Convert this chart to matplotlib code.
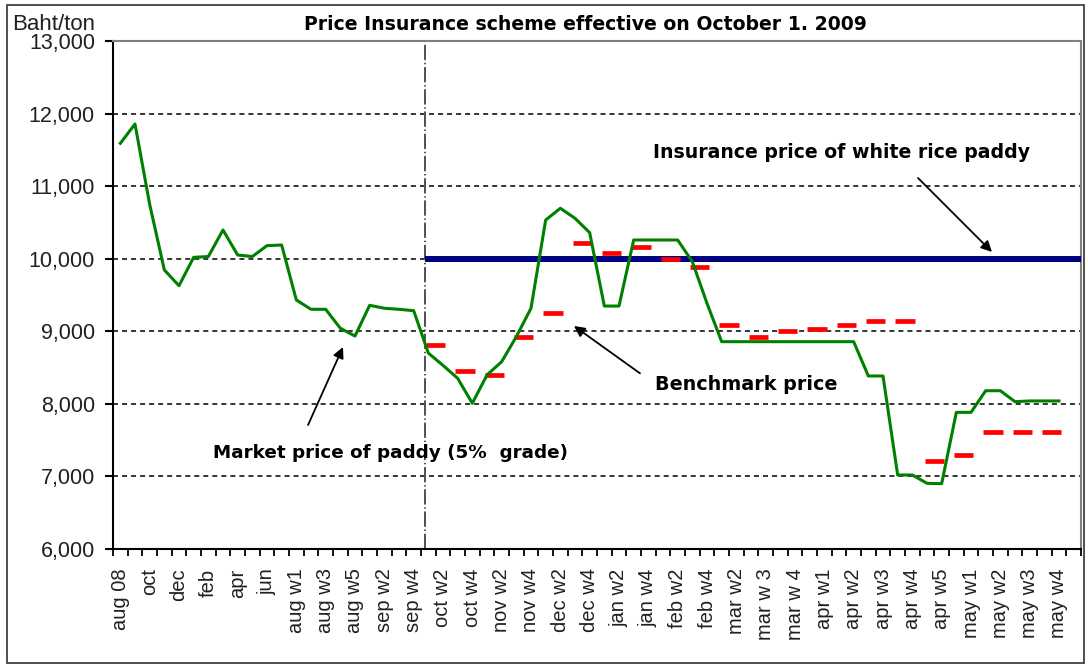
import numpy as np
import matplotlib
matplotlib.use("Agg")
import matplotlib.pyplot as plt
from matplotlib.patches import Rectangle

plt.rcParams['font.family'] = ['Liberation Sans', 'DejaVu Sans']
plt.rcParams['lines.scale_dashes'] = False

# ---------------- data ----------------
tick_labels = ["aug 08", "oct", "dec", "feb", "apr", "jun", "aug w1", "aug w3", "aug w5",
               "sep w2", "sep w4", "oct w2", "oct w4", "nov w2", "nov w4", "dec w2", "dec w4",
               "jan w2", "jan w4", "feb w2", "feb w4", "mar w2", "mar w 3", "mar w 4",
               "apr w1", "apr w2", "apr w3", "apr w4", "apr w5", "may w1", "may w2",
               "may w3", "may w4"]

market_price = [11590, 11856, 10750, 9845, 9628, 10019, 10030, 10396, 10051, 10030,
                10180, 10189, 9431, 9303, 9303, 9041, 8935, 9358, 9317, 9303,
                9284, 8700, 8530, 8352, 8008, 8398, 8581, 8926, 9317, 10533,
                10695, 10557, 10359, 9348, 9348, 10258, 10258, 10258, 10258, 9959,
                9385, 8857, 8857, 8857, 8857, 8857, 8857, 8857, 8857, 8857,
                8857, 8384, 8384, 7020, 7020, 6905, 6900, 7883, 7883, 8181,
                8181, 8030, 8040, 8040, 8040, np.nan]

benchmark_price = [8811, 8453, 8393, 8917, 9248, 10212, 10083, 10166, 9992, 9890,
                   9086, 8917, 9004, 9036, 9086, 9137, 9137, 7217, 7291, 7608,
                   7608, 7608]
benchmark_first_week = 21   # category index where benchmark series starts (2-week periods)

insurance_price = 10000
scheme_start = 20.77        # Oct 1, 2009 position on category axis

title = "Price Insurance scheme effective on October 1. 2009"

# ---------------- figure ----------------
W, H = 1088, 666
fig = plt.figure(figsize=(W / 100, H / 100), dpi=100)
ax = fig.add_axes([113 / W, 1 - 549 / H, (1081 - 113) / W, (549 - 41) / H])

n = len(market_price)
x = np.arange(n)

# grid
for v in range(7000, 13000, 1000):
    ax.axhline(v, color='black', lw=1.1, dashes=[3.6, 2.9], zorder=1)

# scheme start vertical line
ax.axvline(scheme_start, color='#505050', lw=1.4, dashes=[11, 2, 1, 2], zorder=2)

# insurance price
ax.hlines(insurance_price, scheme_start, n - 0.5, color='#000080', lw=4.3, zorder=3)

# benchmark
bx = benchmark_first_week + 0.5 + 2 * np.arange(len(benchmark_price))
ax.hlines(benchmark_price, bx - 0.65, bx + 0.65, color='#ff0000', lw=3.4, zorder=4)

# market price
ax.plot(x, market_price, color='#008000', lw=2.2, zorder=5)

ax.set_xlim(-0.5, n - 0.5)
ax.set_ylim(6000, 13000)

# spines
for s in ['left', 'bottom']:
    ax.spines[s].set_color('black')
    ax.spines[s].set_linewidth(1.5)
for s in ['top', 'right']:
    ax.spines[s].set_color('#808080')
    ax.spines[s].set_linewidth(1.5)

# y ticks
yt = np.arange(6000, 13001, 1000)
ax.set_yticks(yt)
ax.set_yticklabels([f"{v:,.0f}" for v in yt], fontsize=15.5, color='#202020')
ax.tick_params(axis='y', which='major', length=6, width=1.5, direction='out', pad=7)

# x ticks
ax.set_xticks(np.arange(0, n, 2))
ax.set_xticklabels(tick_labels, rotation=90, fontsize=14.5, color='#202020')
ax.set_xticks(np.arange(-0.5, n, 1), minor=True)
ax.tick_params(axis='x', which='major', length=0, pad=14)
ax.tick_params(axis='x', which='minor', length=5, width=1.3, direction='out')

# texts
bold_font = ['DejaVu Sans']
fig.text(585 / W, 1 - 24 / H, title, ha='center', va='center', fontsize=13.6,
         fontweight='bold', family=bold_font)
fig.text(12 / W, 1 - 24 / H, "Baht/ton", ha='left', va='center', fontsize=16,
         color='#202020')

ax.text(36.32, 11457, "Insurance price of white rice paddy", fontsize=13.6,
        fontweight='bold', ha='left', va='center', family=bold_font)
ax.text(36.45, 8260, "Benchmark price", fontsize=13.8, fontweight='bold',
        ha='left', va='center', family=bold_font)
ax.text(6.32, 7323, "Market price of paddy (5%  grade)", fontsize=13.2,
        fontweight='bold', ha='left', va='center', family=bold_font)

arrow = dict(arrowstyle='-|>', color='black', lw=1.3, mutation_scale=16,
             shrinkA=0, shrinkB=0)
ax.annotate('', xy=(59.43, 10093), xytext=(54.39, 11112), arrowprops=arrow, zorder=6)
ax.annotate('', xy=(30.93, 9073), xytext=(35.43, 8421), arrowprops=arrow, zorder=6)
ax.annotate('', xy=(15.18, 8783), xytext=(12.80, 7709), arrowprops=arrow, zorder=6)

# outer frame
fig.patches.append(Rectangle((7 / W, 3 / H), (1084 - 7) / W, (661 - 3) / H,
                             transform=fig.transFigure, fill=False,
                             edgecolor='#404040', lw=1.3))

fig.savefig("out.png", dpi=100)
